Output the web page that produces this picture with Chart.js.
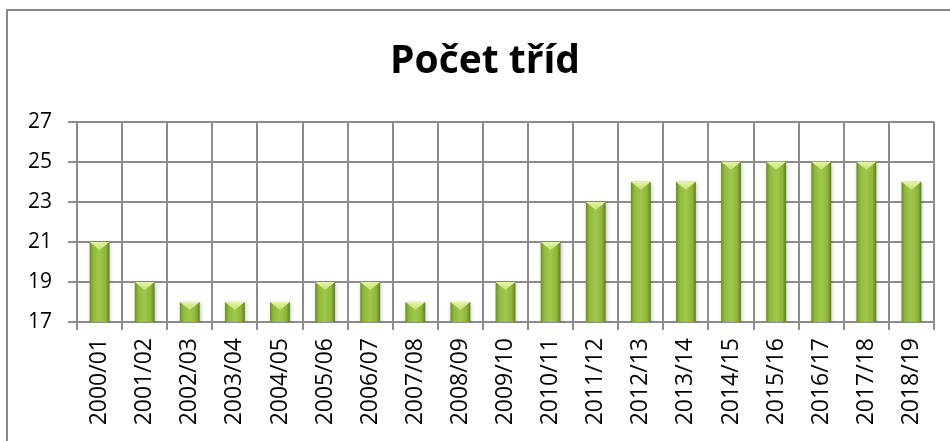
<!DOCTYPE html>
<html>
<head>
<meta charset="utf-8">
<script src="https://cdn.jsdelivr.net/npm/chart.js@4"></script>
<style>
    html, body { margin: 0; padding: 0; background: #fff; overflow: hidden; }
    #frame { position: absolute; left: 6px; top: 9px; width: 1000px; height: 500px; border: 2px solid #898989; box-sizing: border-box; }
    #wrap { position: absolute; left: 0; top: 0; width: 950px; height: 441px; }
</style>
</head>
<body>
<div id="frame"></div>
<div id="wrap"><canvas id="chart" width="950" height="441"></canvas></div>
<script>
const years = ['2000/01', '2001/02', '2002/03', '2003/04', '2004/05', '2005/06', '2006/07', '2007/08', '2008/09', '2009/10',
    '2010/11', '2011/12', '2012/13', '2013/14', '2014/15', '2015/16', '2016/17', '2017/18', '2018/19'];
const classes = [21, 19, 18, 18, 18, 19, 19, 18, 18, 19, 21, 23, 24, 24, 25, 25, 25, 25, 24];
const yTicks = [17, 19, 21, 23, 25, 27];

const gridColor = '#8c8c8c';
const barPct = 0.44;

// horizontal shading of each bar, built from the x scale
function barFill(c) {
    const xs = c.chart.scales.x;
    if (!xs || !xs.width) return '#8cb63a';
    const cx = xs.getPixelForValue(c.dataIndex);
    const w = xs.width / years.length * barPct;
    const g = c.chart.ctx.createLinearGradient(cx - w / 2, 0, cx + w / 2, 0);
    g.addColorStop(0, '#6a8d22');
    g.addColorStop(0.18, '#8fba3d');
    g.addColorStop(0.5, '#9fc84d');
    g.addColorStop(0.82, '#8cb53a');
    g.addColorStop(1, '#5d7c1c');
    return g;
}

// soft shadow + the light bevel on top of the bars
const bevelPlugin = {
    id: 'bevel',
    afterLayout(chart) {
        // title sits a bit right of the canvas centre in the original
        if (chart.titleBlock) chart.titleBlock.left = 36;
    },
    beforeDatasetsDraw(chart) {
        const ctx = chart.ctx;
        ctx.save();
        ctx.shadowColor = 'rgba(0,0,0,0.22)';
        ctx.shadowBlur = 4;
        ctx.shadowOffsetX = 1;
        ctx.shadowOffsetY = 1;
    },
    afterDatasetsDraw(chart) {
        const ctx = chart.ctx;
        ctx.restore();
        chart.getDatasetMeta(0).data.forEach(bar => {
            const l = bar.x - bar.width / 2, r = bar.x + bar.width / 2;
            const top = bar.y, h = 8;
            const g = ctx.createLinearGradient(0, top, 0, top + h);
            g.addColorStop(0, '#e4f6a0');
            g.addColorStop(1, '#c6e274');
            ctx.fillStyle = g;
            ctx.beginPath();
            ctx.moveTo(l, top);
            ctx.lineTo(r, top);
            ctx.lineTo(bar.x, top + h);
            ctx.closePath();
            ctx.fill();
            // darker band at the bottom
            const b = bar.base;
            const g2 = ctx.createLinearGradient(0, b - 5, 0, b);
            g2.addColorStop(0, 'rgba(60,80,15,0)');
            g2.addColorStop(1, 'rgba(60,80,15,0.45)');
            ctx.fillStyle = g2;
            ctx.fillRect(l, b - 5, bar.width, 5);
        });
    }
};

new Chart(document.getElementById('chart'), {
    type: 'bar',
    data: {
        labels: years,
        datasets: [{
            label: 'Počet tříd',
            data: classes,
            backgroundColor: barFill,
            barPercentage: barPct,
            categoryPercentage: 1
        }]
    },
    options: {
        responsive: false,
        animation: false,
        layout: { padding: { top: 0, right: 16, bottom: 0, left: 0 } },
        plugins: {
            legend: { display: false },
            tooltip: { enabled: false },
            title: {
                display: true,
                text: 'Počet tříd',
                color: '#000',
                font: { family: 'Open Sans', size: 39, weight: 'bold' },
                padding: { top: 38, bottom: 37 }
            }
        },
        scales: {
            x: {
                grid: { color: gridColor, lineWidth: 2, tickLength: 8, offset: true },
                border: { color: gridColor, width: 2 },
                ticks: {
                    color: '#000',
                    font: { family: 'Open Sans', size: 23 },
                    minRotation: 90,
                    maxRotation: 90,
                    padding: 8,
                    autoSkip: false
                },
                afterFit(scale) { scale.height = 119; }
            },
            y: {
                min: 17,
                max: 27,
                grid: { color: gridColor, lineWidth: 2, tickLength: 9 },
                border: { color: gridColor, width: 2 },
                afterBuildTicks(scale) { scale.ticks = yTicks.map(v => ({ value: v })); },
                ticks: {
                    color: '#000',
                    font: { family: 'Open Sans', size: 21 },
                    padding: 16
                },
                afterFit(scale) { scale.width = 77; }
            }
        }
    },
    plugins: [bevelPlugin]
});
</script>
</body>
</html>
